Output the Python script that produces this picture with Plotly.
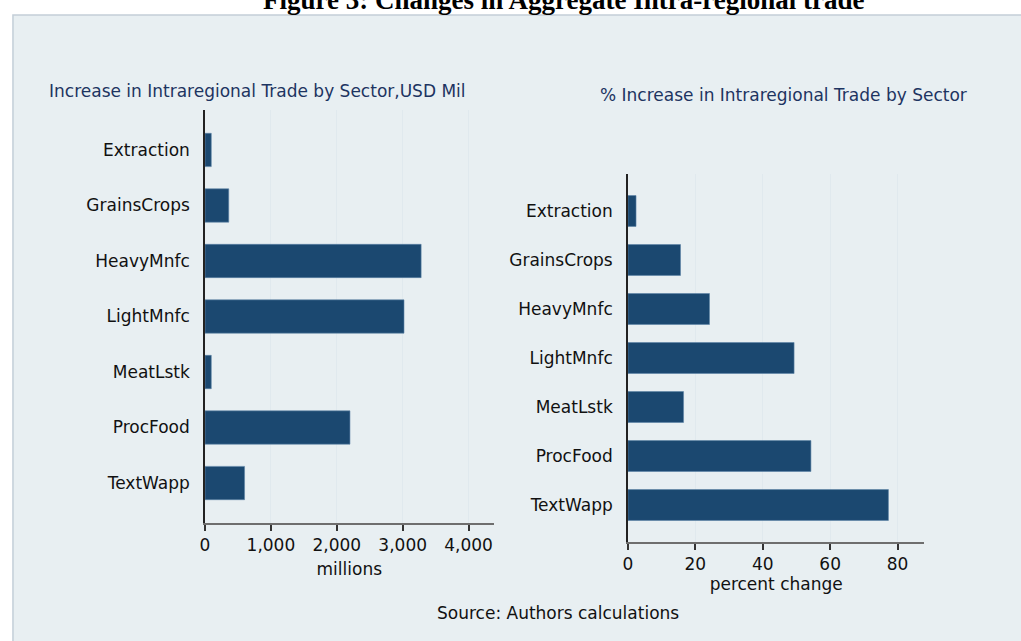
import plotly.graph_objects as go

W, H = 1021, 641

sectors = ["Extraction", "GrainsCrops", "HeavyMnfc", "LightMnfc", "MeatLstk", "ProcFood", "TextWapp"]
usd_millions = [95, 360, 3280, 3020, 95, 2200, 600]
pct_change = [2.4, 15.6, 24.2, 49.3, 16.5, 54.3, 77.3]

left_ticks = [0, 1000, 2000, 3000, 4000]
left_ticktext = ["0", "1,000", "2,000", "3,000", "4,000"]
right_ticks = [0, 20, 40, 60, 80]

title_main = "Figure 3: Changes in Aggregate Intra-regional trade"
title_left = "Increase in Intraregional Trade by Sector,USD Mil"
title_right = "% Increase in Intraregional Trade by Sector"
xlabel_left = "millions"
xlabel_right = "percent change"
source_note = "Source: Authors calculations"

BAR = "#1b4870"
BG = "#e8eff2"
GRID = "#e0e9ee"
FONT = "DejaVu Sans"

def px_x(v):
    return v / W

def px_y(v):
    return 1 - v / H

fig = go.Figure()
fig.add_trace(go.Bar(x=usd_millions, y=sectors, orientation="h", xaxis="x", yaxis="y",
                     marker=dict(color=BAR, line=dict(color="#5d83a6", width=0.6)), width=0.6,
                     showlegend=False))
fig.add_trace(go.Bar(x=pct_change, y=sectors, orientation="h", xaxis="x2", yaxis="y2",
                     marker=dict(color=BAR, line=dict(color="#5d83a6", width=0.6)), width=0.63,
                     showlegend=False))

common_x = dict(showgrid=True, gridcolor=GRID, gridwidth=1.2, zeroline=False,
                showline=True, linecolor="#6e6e6e", linewidth=1.5,
                ticks="outside", ticklen=6, tickwidth=1.5, tickcolor="#333333",
                tickfont=dict(family=FONT, size=17, color="#111111"),
                title_font=dict(family=FONT, size=17, color="#111111"))
common_y = dict(showgrid=False, zeroline=False, showline=True, linecolor="#222222", linewidth=1.6,
                ticks="outside", ticklen=10, tickcolor="rgba(0,0,0,0)",
                tickfont=dict(family=FONT, size=17, color="#111111"))

fig.update_layout(
    width=W, height=H,
    margin=dict(l=0, r=0, t=0, b=0),
    paper_bgcolor="white", plot_bgcolor="white",
    bargap=0.4,
    xaxis=dict(domain=[px_x(201), px_x(491)], range=[0, 4380], tickvals=left_ticks,
               ticktext=left_ticktext, anchor="y",
               title=dict(text=xlabel_left, standoff=9), **common_x),
    yaxis=dict(domain=[px_y(523), px_y(110)], anchor="x", categoryorder="array",
               categoryarray=sectors, range=[6.72, -0.72], **common_y),
    xaxis2=dict(domain=[px_x(626), px_x(924)], range=[0, 88], tickvals=right_ticks, anchor="y2",
                title=dict(text=xlabel_right, standoff=4), **common_x),
    yaxis2=dict(domain=[px_y(542), px_y(174)], anchor="x2", categoryorder="array",
                categoryarray=sectors, range=[6.755, -0.755], **common_y),
    shapes=[dict(type="rect", xref="paper", yref="paper", x0=px_x(8), x1=1.02,
                 y0=-0.02, y1=px_y(15), fillcolor=BG, line=dict(color="#c3ced8", width=1.5),
                 layer="below")],
    annotations=[
        dict(text="<b>" + title_main + "</b>", xref="paper", yref="paper", x=px_x(561), y=px_y(17),
             xanchor="center", yanchor="bottom", showarrow=False,
             font=dict(family="Liberation Serif", size=27, color="#000000")),
        dict(text=title_left, xref="paper", yref="paper", x=px_x(42), y=px_y(91),
             xanchor="left", yanchor="middle", showarrow=False,
             font=dict(family=FONT, size=17, color="#1d3461")),
        dict(text=title_right, xref="paper", yref="paper", x=px_x(596), y=px_y(95),
             xanchor="left", yanchor="middle", showarrow=False,
             font=dict(family=FONT, size=17, color="#1d3461")),
        dict(text=source_note, xref="paper", yref="paper", x=px_x(556), y=px_y(613),
             xanchor="center", yanchor="middle", showarrow=False,
             font=dict(family=FONT, size=17, color="#111111")),
    ],
)

fig.write_html("out.html", config={"displayModeBar": False},
               post_script="document.body.style.margin='0';document.body.style.overflow='hidden';")
